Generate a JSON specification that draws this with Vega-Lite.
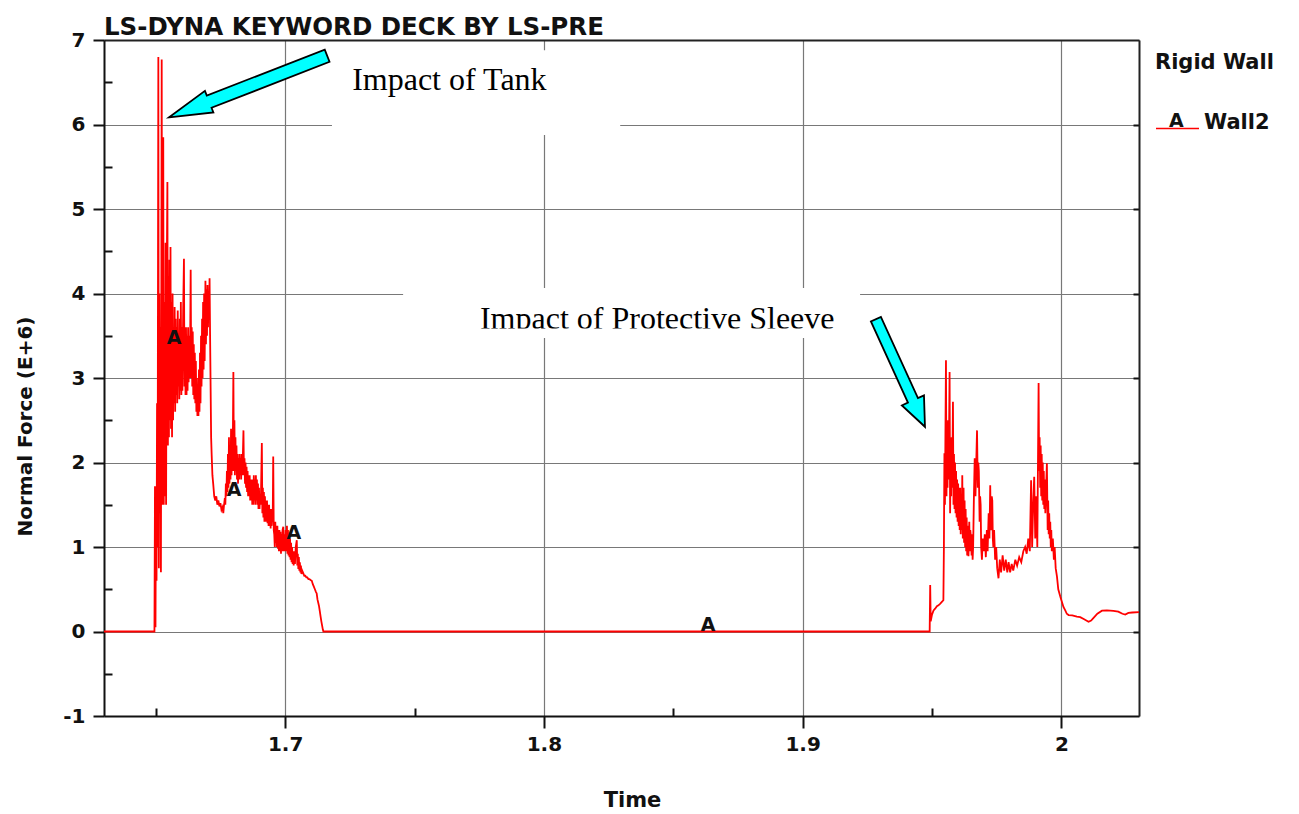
{
"$schema":"https://vega.github.io/schema/vega-lite/v6.json",
"width":1035,"height":676,
"autosize":{"type":"none"},
"padding":{"left":104,"top":40,"right":160,"bottom":98},
"background":"white",
"title":{"text":"LS-DYNA KEYWORD DECK BY LS-PRE","anchor":"start","frame":"group","font":"DejaVu Sans","fontSize":24.5,"fontWeight":"bold","color":"#111","offset":-10},
"config":{"view":{"stroke":null},"font":"DejaVu Sans"},
"datasets":{
"curve":[
{"t":1.63,"F":0},{"t":1.6495,"F":0},{"t":1.6497,"F":1.72},{"t":1.6499,"F":0.05},{"t":1.6501,"F":1.7},{"t":1.6503,"F":0.6},{"t":1.6505,"F":2.7},{"t":1.6507,"F":1.0},{"t":1.651,"F":6.8},{"t":1.6512,"F":0.75},{"t":1.6514,"F":4.0},{"t":1.6516,"F":1.4},{"t":1.6518,"F":3.6},{"t":1.652,"F":0.7},{"t":1.6523,"F":6.77},{"t":1.6525,"F":1.5},{"t":1.6527,"F":3.2},{"t":1.6529,"F":5.85},{"t":1.6531,"F":1.5},{"t":1.6533,"F":3.9},{"t":1.6536,"F":1.6},{"t":1.6538,"F":4.6},{"t":1.654,"F":1.5},{"t":1.6542,"F":4.0},{"t":1.6545,"F":5.32},{"t":1.6547,"F":2.2},{"t":1.6549,"F":4.2},{"t":1.6551,"F":2.3},{"t":1.6553,"F":4.4},{"t":1.6555,"F":2.5},{"t":1.6557,"F":4.55},{"t":1.6559,"F":2.4},{"t":1.6561,"F":3.9},{"t":1.6563,"F":2.3},{"t":1.6565,"F":4.0},{"t":1.6567,"F":2.5},{"t":1.6569,"F":3.6},{"t":1.6571,"F":2.7},{"t":1.6573,"F":3.84},{"t":1.6575,"F":2.6},{"t":1.6577,"F":3.7},{"t":1.6579,"F":2.8},{"t":1.6581,"F":3.6},{"t":1.6583,"F":2.7},{"t":1.6585,"F":3.8},{"t":1.6587,"F":2.9},{"t":1.6589,"F":3.5},{"t":1.6591,"F":2.75},{"t":1.6593,"F":3.7},{"t":1.6595,"F":2.85},{"t":1.6597,"F":3.9},{"t":1.6599,"F":2.8},{"t":1.6601,"F":3.6},{"t":1.6603,"F":2.85},{"t":1.6606,"F":3.8},{"t":1.6609,"F":4.41},{"t":1.6611,"F":2.9},{"t":1.6613,"F":3.5},{"t":1.6615,"F":2.8},{"t":1.6617,"F":3.6},{"t":1.6619,"F":2.8},{"t":1.6621,"F":3.5},{"t":1.6623,"F":2.85},{"t":1.6625,"F":3.6},{"t":1.6627,"F":2.95},{"t":1.6629,"F":3.5},{"t":1.6632,"F":3.0},{"t":1.6635,"F":4.28},{"t":1.6637,"F":3.0},{"t":1.6639,"F":3.6},{"t":1.6641,"F":2.9},{"t":1.6643,"F":3.55},{"t":1.6645,"F":2.8},{"t":1.6647,"F":3.4},{"t":1.6649,"F":2.75},{"t":1.6651,"F":3.3},{"t":1.6653,"F":2.7},{"t":1.6655,"F":3.2},{"t":1.6657,"F":2.6},{"t":1.6659,"F":3.0},{"t":1.6661,"F":2.55},{"t":1.6663,"F":2.9},{"t":1.6665,"F":2.55},{"t":1.6667,"F":3.1},{"t":1.6669,"F":2.6},{"t":1.6671,"F":3.3},{"t":1.6673,"F":2.7},{"t":1.6675,"F":3.5},{"t":1.6677,"F":2.9},{"t":1.6679,"F":3.7},{"t":1.6681,"F":3.0},{"t":1.6683,"F":3.9},{"t":1.6685,"F":3.1},{"t":1.6687,"F":4.0},{"t":1.6689,"F":3.2},{"t":1.6692,"F":4.15},{"t":1.6694,"F":3.4},{"t":1.6696,"F":4.05},{"t":1.6698,"F":3.5},{"t":1.67,"F":4.1},{"t":1.6702,"F":3.6},{"t":1.6704,"F":4.0},{"t":1.6706,"F":3.7},{"t":1.6708,"F":4.18},{"t":1.671,"F":3.5},{"t":1.6712,"F":2.9},{"t":1.6714,"F":2.3},{"t":1.6716,"F":2.1},{"t":1.6719,"F":1.85},{"t":1.6722,"F":1.75},{"t":1.6726,"F":1.6},{"t":1.673,"F":1.55},{"t":1.6734,"F":1.6},{"t":1.6738,"F":1.5},{"t":1.6742,"F":1.55},{"t":1.6746,"F":1.48},{"t":1.675,"F":1.52},{"t":1.6754,"F":1.44},{"t":1.6758,"F":1.47},{"t":1.6761,"F":1.4},{"t":1.6764,"F":1.5},{"t":1.6767,"F":1.58},{"t":1.6769,"F":1.5},{"t":1.6771,"F":1.75},{"t":1.6773,"F":1.6},{"t":1.6775,"F":1.9},{"t":1.6777,"F":1.65},{"t":1.6779,"F":2.1},{"t":1.6781,"F":1.7},{"t":1.6783,"F":2.3},{"t":1.6785,"F":1.75},{"t":1.6787,"F":2.2},{"t":1.6789,"F":1.8},{"t":1.6791,"F":2.4},{"t":1.6793,"F":1.85},{"t":1.6795,"F":2.3},{"t":1.6797,"F":1.9},{"t":1.68,"F":3.07},{"t":1.6802,"F":1.9},{"t":1.6804,"F":2.5},{"t":1.6806,"F":1.85},{"t":1.6808,"F":2.3},{"t":1.681,"F":1.9},{"t":1.6812,"F":2.2},{"t":1.6814,"F":1.8},{"t":1.6816,"F":2.1},{"t":1.6818,"F":1.75},{"t":1.682,"F":2.05},{"t":1.6822,"F":1.8},{"t":1.6824,"F":2.1},{"t":1.6826,"F":1.85},{"t":1.6828,"F":2.05},{"t":1.683,"F":1.8},{"t":1.6832,"F":2.1},{"t":1.6834,"F":1.85},{"t":1.6836,"F":2.0},{"t":1.6839,"F":2.38},{"t":1.6841,"F":1.85},{"t":1.6843,"F":2.05},{"t":1.6845,"F":1.75},{"t":1.6847,"F":2.0},{"t":1.6849,"F":1.7},{"t":1.6851,"F":1.95},{"t":1.6853,"F":1.65},{"t":1.6855,"F":1.9},{"t":1.6857,"F":1.6},{"t":1.6859,"F":1.85},{"t":1.6861,"F":1.6},{"t":1.6863,"F":1.85},{"t":1.6865,"F":1.55},{"t":1.6867,"F":1.8},{"t":1.6869,"F":1.55},{"t":1.6871,"F":1.8},{"t":1.6873,"F":1.5},{"t":1.6875,"F":1.8},{"t":1.6877,"F":1.5},{"t":1.6879,"F":1.85},{"t":1.6881,"F":1.55},{"t":1.6883,"F":1.8},{"t":1.6885,"F":1.5},{"t":1.6887,"F":1.85},{"t":1.6889,"F":1.55},{"t":1.6891,"F":1.8},{"t":1.6893,"F":1.5},{"t":1.6895,"F":1.75},{"t":1.6897,"F":1.45},{"t":1.6899,"F":1.7},{"t":1.6901,"F":1.45},{"t":1.6903,"F":1.6},{"t":1.6906,"F":1.5},{"t":1.691,"F":2.23},{"t":1.6912,"F":1.4},{"t":1.6914,"F":1.7},{"t":1.6916,"F":1.35},{"t":1.6918,"F":1.65},{"t":1.692,"F":1.3},{"t":1.6922,"F":1.6},{"t":1.6924,"F":1.3},{"t":1.6926,"F":1.55},{"t":1.6928,"F":1.3},{"t":1.693,"F":1.55},{"t":1.6932,"F":1.28},{"t":1.6934,"F":1.5},{"t":1.6936,"F":1.25},{"t":1.6938,"F":1.5},{"t":1.694,"F":1.25},{"t":1.6942,"F":1.45},{"t":1.6944,"F":1.22},{"t":1.6946,"F":1.45},{"t":1.6948,"F":1.25},{"t":1.695,"F":1.4},{"t":1.6952,"F":1.3},{"t":1.6954,"F":2.07},{"t":1.6956,"F":1.2},{"t":1.6958,"F":1.15},{"t":1.696,"F":1.0},{"t":1.6962,"F":1.3},{"t":1.6964,"F":1.05},{"t":1.6966,"F":1.25},{"t":1.6968,"F":1.0},{"t":1.697,"F":1.25},{"t":1.6972,"F":0.98},{"t":1.6974,"F":1.2},{"t":1.6976,"F":0.95},{"t":1.6978,"F":1.2},{"t":1.698,"F":0.95},{"t":1.6982,"F":1.18},{"t":1.6984,"F":0.92},{"t":1.6986,"F":1.15},{"t":1.6988,"F":0.95},{"t":1.699,"F":1.2},{"t":1.6993,"F":1.24},{"t":1.6995,"F":0.95},{"t":1.6998,"F":1.15},{"t":1.7,"F":0.95},{"t":1.7002,"F":1.2},{"t":1.7004,"F":0.95},{"t":1.7007,"F":1.25},{"t":1.7009,"F":0.92},{"t":1.7011,"F":1.2},{"t":1.7013,"F":0.9},{"t":1.7015,"F":1.15},{"t":1.7017,"F":0.88},{"t":1.7019,"F":1.1},{"t":1.7021,"F":0.85},{"t":1.7023,"F":1.05},{"t":1.7025,"F":0.82},{"t":1.7027,"F":1.0},{"t":1.7029,"F":0.8},{"t":1.7031,"F":0.95},{"t":1.7033,"F":0.78},{"t":1.7035,"F":0.95},{"t":1.7038,"F":0.8},{"t":1.7041,"F":1.0},{"t":1.7045,"F":1.08},{"t":1.7047,"F":0.78},{"t":1.7049,"F":0.92},{"t":1.7051,"F":0.74},{"t":1.7053,"F":0.88},{"t":1.7055,"F":0.72},{"t":1.7057,"F":0.82},{"t":1.7059,"F":0.7},{"t":1.7061,"F":0.78},{"t":1.7063,"F":0.68},{"t":1.7066,"F":0.72},{"t":1.707,"F":0.69},{"t":1.7074,"F":0.66},{"t":1.7078,"F":0.66},{"t":1.7082,"F":0.64},{"t":1.7086,"F":0.64},{"t":1.709,"F":0.62},{"t":1.7094,"F":0.62},{"t":1.7098,"F":0.61},{"t":1.7103,"F":0.6},{"t":1.7107,"F":0.56},{"t":1.7111,"F":0.53},{"t":1.7115,"F":0.5},{"t":1.7119,"F":0.47},{"t":1.7122,"F":0.45},{"t":1.7125,"F":0.38},{"t":1.7128,"F":0.34},{"t":1.7131,"F":0.3},{"t":1.7134,"F":0.24},{"t":1.7137,"F":0.18},{"t":1.714,"F":0.12},{"t":1.7143,"F":0.07},{"t":1.7146,"F":0.02},{"t":1.7148,"F":0},
{"t":1.9491,"F":0},{"t":1.9493,"F":0.55},{"t":1.9495,"F":0.12},{"t":1.95,"F":0.2},{"t":1.9506,"F":0.25},{"t":1.9512,"F":0.27},{"t":1.9519,"F":0.3},{"t":1.9525,"F":0.31},{"t":1.9532,"F":0.33},{"t":1.9538,"F":0.35},{"t":1.9544,"F":0.37},{"t":1.9546,"F":1.0},{"t":1.9548,"F":2.11},{"t":1.955,"F":1.5},{"t":1.9552,"F":2.4},{"t":1.9554,"F":3.21},{"t":1.9556,"F":1.6},{"t":1.9558,"F":2.4},{"t":1.956,"F":1.7},{"t":1.9562,"F":2.5},{"t":1.9564,"F":1.8},{"t":1.9566,"F":2.4},{"t":1.9568,"F":3.07},{"t":1.957,"F":1.4},{"t":1.9572,"F":2.1},{"t":1.9574,"F":1.6},{"t":1.9576,"F":2.3},{"t":1.9578,"F":1.7},{"t":1.9581,"F":2.72},{"t":1.9583,"F":1.5},{"t":1.9585,"F":2.1},{"t":1.9587,"F":1.45},{"t":1.9589,"F":2.0},{"t":1.9591,"F":1.4},{"t":1.9593,"F":1.9},{"t":1.9595,"F":1.35},{"t":1.9597,"F":1.8},{"t":1.9599,"F":1.3},{"t":1.9601,"F":1.75},{"t":1.9603,"F":1.25},{"t":1.9605,"F":1.7},{"t":1.9607,"F":1.2},{"t":1.9609,"F":1.7},{"t":1.9611,"F":1.15},{"t":1.9613,"F":1.6},{"t":1.9615,"F":1.2},{"t":1.9617,"F":1.85},{"t":1.9619,"F":1.1},{"t":1.9622,"F":1.7},{"t":1.9624,"F":1.05},{"t":1.9626,"F":1.55},{"t":1.9628,"F":1.0},{"t":1.963,"F":1.45},{"t":1.9632,"F":0.95},{"t":1.9634,"F":1.35},{"t":1.9636,"F":0.9},{"t":1.9638,"F":1.25},{"t":1.9641,"F":0.89},{"t":1.9644,"F":1.3},{"t":1.9646,"F":0.95},{"t":1.9648,"F":1.2},{"t":1.9651,"F":1.1},{"t":1.9653,"F":0.9},{"t":1.9655,"F":1.15},{"t":1.9657,"F":0.85},{"t":1.9659,"F":1.0},{"t":1.9662,"F":1.6},{"t":1.9665,"F":2.05},{"t":1.9668,"F":1.6},{"t":1.9671,"F":2.0},{"t":1.9674,"F":2.38},{"t":1.9677,"F":1.7},{"t":1.9679,"F":2.0},{"t":1.9681,"F":1.9},{"t":1.9684,"F":1.3},{"t":1.9686,"F":1.6},{"t":1.9688,"F":1.5},{"t":1.969,"F":1.0},{"t":1.9693,"F":0.85},{"t":1.9696,"F":1.1},{"t":1.97,"F":0.95},{"t":1.9704,"F":1.15},{"t":1.9708,"F":0.88},{"t":1.9712,"F":1.2},{"t":1.9715,"F":0.95},{"t":1.9719,"F":1.4},{"t":1.9722,"F":1.1},{"t":1.9725,"F":1.73},{"t":1.9727,"F":1.3},{"t":1.9729,"F":1.2},{"t":1.9731,"F":1.6},{"t":1.9733,"F":1.55},{"t":1.9735,"F":1.1},{"t":1.9737,"F":1.0},{"t":1.974,"F":1.2},{"t":1.9744,"F":0.85},{"t":1.9748,"F":1.0},{"t":1.9752,"F":0.75},{"t":1.9757,"F":0.63},{"t":1.9762,"F":0.85},{"t":1.9767,"F":0.7},{"t":1.9773,"F":0.9},{"t":1.9779,"F":0.72},{"t":1.9785,"F":0.85},{"t":1.9791,"F":0.7},{"t":1.9796,"F":0.82},{"t":1.9802,"F":0.7},{"t":1.9808,"F":0.8},{"t":1.9814,"F":0.72},{"t":1.9822,"F":0.85},{"t":1.9829,"F":0.78},{"t":1.9837,"F":0.88},{"t":1.9845,"F":0.82},{"t":1.9853,"F":0.95},{"t":1.986,"F":1.0},{"t":1.9866,"F":0.92},{"t":1.9872,"F":1.1},{"t":1.9878,"F":0.95},{"t":1.9883,"F":1.79},{"t":1.9887,"F":1.0},{"t":1.9891,"F":1.5},{"t":1.9895,"F":1.83},{"t":1.9899,"F":1.1},{"t":1.9903,"F":1.6},{"t":1.9907,"F":1.0},{"t":1.9912,"F":2.94},{"t":1.9914,"F":1.9},{"t":1.9916,"F":2.3},{"t":1.9918,"F":1.7},{"t":1.992,"F":2.2},{"t":1.9922,"F":1.6},{"t":1.9924,"F":2.1},{"t":1.9926,"F":1.55},{"t":1.9928,"F":2.0},{"t":1.993,"F":1.5},{"t":1.9932,"F":1.9},{"t":1.9934,"F":1.45},{"t":1.9936,"F":1.8},{"t":1.9938,"F":1.4},{"t":1.9941,"F":1.7},{"t":1.9944,"F":1.99},{"t":1.9947,"F":1.2},{"t":1.9949,"F":1.55},{"t":1.9951,"F":1.15},{"t":1.9953,"F":1.4},{"t":1.9955,"F":1.1},{"t":1.9957,"F":1.3},{"t":1.9959,"F":1.0},{"t":1.9961,"F":1.2},{"t":1.9963,"F":0.95},{"t":1.9967,"F":1.1},{"t":1.9971,"F":0.85},{"t":1.9974,"F":1.0},{"t":1.9978,"F":0.75},{"t":1.9983,"F":0.65},{"t":1.9988,"F":0.5},{"t":1.9996,"F":0.41},{"t":2.0001,"F":0.36},{"t":2.0008,"F":0.29},{"t":2.0015,"F":0.25},{"t":2.0021,"F":0.21},{"t":2.0028,"F":0.195},{"t":2.0042,"F":0.19},{"t":2.006,"F":0.175},{"t":2.0073,"F":0.17},{"t":2.0088,"F":0.145},{"t":2.0105,"F":0.116},{"t":2.0115,"F":0.13},{"t":2.0127,"F":0.17},{"t":2.0139,"F":0.21},{"t":2.0157,"F":0.246},{"t":2.0176,"F":0.25},{"t":2.0201,"F":0.245},{"t":2.022,"F":0.235},{"t":2.0236,"F":0.21},{"t":2.0247,"F":0.2},{"t":2.0259,"F":0.22},{"t":2.0274,"F":0.225},{"t":2.03,"F":0.23}
],
"boxes":[{"x1":1.7181,"x2":1.8295,"y1":6.88,"y2":5.876},{"x1":1.7456,"x2":1.9222,"y1":4.065,"y2":3.473}],
"clip":[{"x1":1.7456,"x2":1.9222,"y1":3.586,"y2":3.473}],
"notes":[{"t":1.7259,"F":6.408,"label":"Impact of Tank"},{"t":1.7753,"F":3.574,"label":"Impact of Protective Sleeve"}],
"markers":[{"t":1.6571,"F":3.47,"label":"A"},{"t":1.6803,"F":1.675,"label":"A"},{"t":1.7034,"F":1.162,"label":"A"},{"t":1.8635,"F":0.077,"label":"A"},{"t":2.0444,"F":6.038,"label":"A"}],
"arrow1":[{"t":1.6857,"F":6.45}],
"arrow2":[{"t":1.9378,"F":3.06}]
},
"layer":[
{"data":{"name":"boxes"},"mark":{"type":"rect","fill":"white","stroke":null},
 "encoding":{
  "x":{"field":"x1","type":"quantitative","scale":{"domain":[1.63,2.03],"nice":false,"zero":false},
   "axis":{"orient":"bottom","values":[1.65,1.75,1.85,1.95],"labels":false,"domain":false,"grid":false,"ticks":true,"tickSize":-8,"tickColor":"#111","tickWidth":2,"title":null}},
  "x2":{"field":"x2"},
  "y":{"field":"y1","type":"quantitative","scale":{"domain":[-1,7],"nice":false,"zero":false},
   "axis":{"orient":"left","values":[-0.5,0.5,1.5,2.5,3.5,4.5,5.5,6.5],"labels":false,"domain":false,"grid":false,"ticks":true,"tickSize":-8,"tickColor":"#111","tickWidth":2,"title":null}},
  "y2":{"field":"y2"}}},
{"data":{"name":"curve"},"mark":{"type":"line","strokeWidth":1.8},
 "encoding":{
  "x":{"field":"t","type":"quantitative","scale":{"domain":[1.63,2.03],"nice":false,"zero":false},
   "axis":{"orient":"bottom","values":[1.7,1.8,1.9,2.0],"labelExpr":"toString(datum.value)","title":"Time","grid":true,"gridColor":"#787878","gridWidth":1.2,"domainColor":"#111","domainWidth":2,"tickColor":"#111","tickWidth":2,"tickSize":12,"labelFont":"DejaVu Sans","labelFontSize":20,"labelFontWeight":"bold","labelColor":"#111","labelPadding":6,"labelFlush":false,"labelOverlap":false,"titleFont":"DejaVu Sans","titleFontSize":21,"titleFontWeight":"bold","titleColor":"#111","titleX":528,"titleY":84,"titleBaseline":"middle","titleAlign":"center"}},
  "y":{"field":"F","type":"quantitative","scale":{"domain":[-1,7],"nice":false,"zero":false},
   "axis":{"orient":"left","values":[-1,0,1,2,3,4,5,6,7],"labelExpr":"toString(datum.value)","title":"Normal Force (E+6)","grid":true,"gridColor":"#787878","gridWidth":1.2,"domainColor":"#111","domainWidth":2,"tickColor":"#111","tickWidth":2,"tickSize":11,"labelFont":"DejaVu Sans","labelFontSize":20,"labelFontWeight":"bold","labelColor":"#111","labelPadding":8,"labelFlush":false,"labelOverlap":false,"titleFont":"DejaVu Sans","titleFontSize":20,"titleFontWeight":"bold","titleColor":"#111","titleX":-79,"titleY":386,"titleAngle":270,"titleBaseline":"middle","titleAlign":"center"}},
  "color":{"datum":"Wall2","type":"nominal","scale":{"range":["#ff0000"]},
   "legend":{"title":"Rigid Wall","orient":"none","legendX":1051,"legendY":12,"direction":"vertical","symbolType":"stroke","symbolSize":1849,"symbolStrokeWidth":1.5,"labelFont":"DejaVu Sans","labelFontSize":21,"labelFontWeight":"bold","labelColor":"#111","labelBaseline":"alphabetic","labelOffset":4,"titleFont":"DejaVu Sans","titleFontSize":21,"titleFontWeight":"bold","titleColor":"#111","titlePadding":33,"padding":0,"offset":0}}}},
{"data":{"name":"notes"},"mark":{"type":"text","font":"Liberation Serif","fontSize":32,"align":"left","baseline":"alphabetic","color":"#000"},
 "encoding":{
  "x":{"field":"t","type":"quantitative","scale":{"domain":[1.63,2.03],"nice":false,"zero":false},"axis":null},
  "y":{"field":"F","type":"quantitative","scale":{"domain":[-1,7],"nice":false,"zero":false},"axis":null},
  "text":{"field":"label"}}},
{"data":{"name":"clip"},"mark":{"type":"rect","fill":"white","stroke":null},
 "encoding":{
  "x":{"field":"x1","type":"quantitative","scale":{"domain":[1.63,2.03],"nice":false,"zero":false},"axis":null},
  "x2":{"field":"x2"},
  "y":{"field":"y1","type":"quantitative","scale":{"domain":[-1,7],"nice":false,"zero":false},"axis":null},
  "y2":{"field":"y2"}}},
{"data":{"name":"markers"},"mark":{"type":"text","font":"DejaVu Sans","fontSize":19,"fontWeight":"bold","align":"center","baseline":"middle","color":"#111"},
 "encoding":{
  "x":{"field":"t","type":"quantitative","scale":{"domain":[1.63,2.03],"nice":false,"zero":false},
   "axis":{"orient":"top","domain":true,"domainColor":"#222","domainWidth":2,"ticks":false,"labels":false,"grid":false,"title":null}},
  "y":{"field":"F","type":"quantitative","scale":{"domain":[-1,7],"nice":false,"zero":false},
   "axis":{"orient":"right","values":[0,1,2,3,4,5,6],"domain":true,"domainColor":"#222","domainWidth":2,"ticks":true,"tickSize":-6,"tickColor":"#111","tickWidth":2,"labels":false,"grid":false,"title":null}},
  "text":{"field":"label"}}},
{"data":{"name":"arrow1"},"mark":{"type":"point","shape":"M1,0L0.493,-0.137L0.493,-0.077L-1,-0.077L-1,0.077L0.493,0.077L0.493,0.137Z","size":28764,"angle":158.7,"filled":true,"fill":"#00ffff","stroke":"#000","strokeWidth":1.8,"opacity":1},
 "encoding":{
  "x":{"field":"t","type":"quantitative","scale":{"domain":[1.63,2.03],"nice":false,"zero":false},"axis":null},
  "y":{"field":"F","type":"quantitative","scale":{"domain":[-1,7],"nice":false,"zero":false},"axis":null}}},
{"data":{"name":"arrow2"},"mark":{"type":"point","shape":"M1,0L0.51,-0.205L0.51,-0.093L-1,-0.093L-1,0.093L0.51,0.093L0.51,0.205Z","size":13995,"angle":65.5,"filled":true,"fill":"#00ffff","stroke":"#000","strokeWidth":1.8,"opacity":1},
 "encoding":{
  "x":{"field":"t","type":"quantitative","scale":{"domain":[1.63,2.03],"nice":false,"zero":false},"axis":null},
  "y":{"field":"F","type":"quantitative","scale":{"domain":[-1,7],"nice":false,"zero":false},"axis":null}}}
],
"resolve":{"axis":{"x":"independent","y":"independent"}}
}
